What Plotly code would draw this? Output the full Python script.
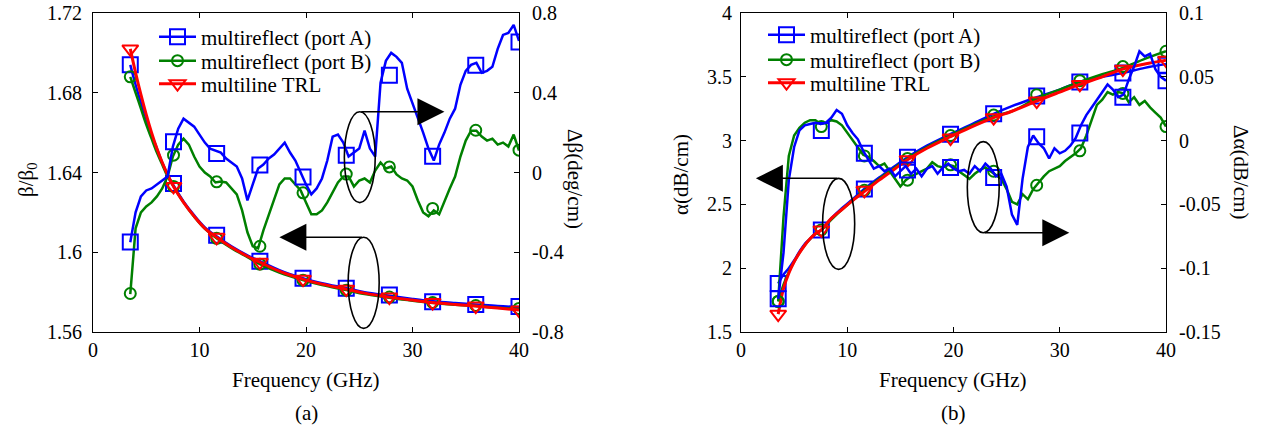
import plotly.graph_objects as go

FONT = "Times New Roman, Liberation Serif, serif"
BLUE, GREEN, RED = "#0000FF", "#008000", "#FF0000"

# ---------------- data ----------------
# smooth curves (beta/beta0 and alpha) sampling frequencies (GHz)
f_smooth = [3.5, 4.0, 4.5, 5.0, 5.5, 6.0, 6.5, 7.0, 7.56, 8.5, 9.5, 10.5, 11.6, 13.0,
            14.5, 15.67, 17.5, 19.7, 21.5, 23.78, 25.5, 27.83, 30.0, 31.9, 34.0, 35.94, 38.0, 40.0]

beta_A = [1.694, 1.684, 1.675, 1.667, 1.659, 1.652, 1.645, 1.639, 1.6335, 1.6255, 1.6185, 1.6125, 1.608, 1.603,
          1.5985, 1.5955, 1.591, 1.587, 1.5845, 1.582, 1.580, 1.5782, 1.5766, 1.5754, 1.5745, 1.5738, 1.573, 1.5725]
beta_B = [1.688, 1.680, 1.672, 1.664, 1.657, 1.650, 1.644, 1.638, 1.633, 1.625, 1.6178, 1.6118, 1.607, 1.602,
          1.5975, 1.594, 1.5898, 1.586, 1.5835, 1.581, 1.579, 1.5772, 1.5757, 1.5746, 1.5737, 1.573, 1.5722, 1.5715]
beta_trl = [1.702, 1.690, 1.679, 1.669, 1.660, 1.652, 1.645, 1.639, 1.633, 1.625, 1.618, 1.612, 1.6075, 1.6025,
            1.598, 1.595, 1.5905, 1.5865, 1.584, 1.5815, 1.5795, 1.5775, 1.576, 1.5748, 1.5738, 1.573, 1.572, 1.571]

alpha_A = [1.88, 1.95, 2.00, 2.06, 2.13, 2.19, 2.23, 2.27, 2.30, 2.39, 2.47, 2.54, 2.62, 2.71,
           2.80, 2.87, 2.96, 3.05, 3.12, 3.21, 3.27, 3.34, 3.40, 3.46, 3.50, 3.53, 3.57, 3.60]
alpha_B = [1.74, 1.87, 1.97, 2.05, 2.12, 2.18, 2.23, 2.27, 2.30, 2.38, 2.46, 2.53, 2.61, 2.70,
           2.79, 2.86, 2.95, 3.04, 3.11, 3.19, 3.23, 3.33, 3.40, 3.46, 3.52, 3.57, 3.64, 3.70]
alpha_trl = [1.64, 1.84, 1.96, 2.05, 2.12, 2.18, 2.23, 2.27, 2.30, 2.39, 2.46, 2.53, 2.60, 2.69,
             2.78, 2.85, 2.94, 3.03, 3.10, 3.18, 3.23, 3.31, 3.38, 3.44, 3.50, 3.56, 3.60, 3.63]

# noisy difference curves sampling frequencies (GHz)
f_noisy = [3.5, 4.0, 4.5, 5.0, 5.5, 6.0, 6.5, 7.0, 7.5, 8.0,
           8.5, 9.0, 9.5, 10.0, 10.5, 11.0, 11.5, 12.0, 12.5, 13.0,
           13.5, 14.0, 14.5, 15.0, 15.5, 16.0, 16.5, 17.0, 17.5, 18.0,
           18.5, 19.0, 19.5, 20.0, 20.5, 21.0, 21.5, 22.0, 22.5, 23.0,
           23.5, 24.0, 24.5, 25.0, 25.5, 26.0, 26.5, 27.0, 27.5, 28.0,
           28.5, 29.0, 29.5, 30.0, 30.5, 31.0, 31.5, 32.0, 32.5, 33.0,
           33.5, 34.0, 34.5, 35.0, 35.5, 36.0, 36.5, 37.0, 37.5, 38.0,
           38.5, 39.0, 39.5, 40.0]

dbeta_A = [-0.35, -0.20, -0.12, -0.09, -0.08, -0.06, -0.04, -0.02, 0.13, 0.22,
           0.27, 0.25, 0.23, 0.19, 0.15, 0.12, 0.11, 0.10, 0.07, 0.05,
           0.03, -0.03, -0.14, -0.06, 0.02, 0.04, 0.07, 0.09, 0.12, 0.15,
           0.10, 0.06, 0.00, -0.06, -0.11, -0.08, -0.03, 0.06, 0.18, 0.19,
           0.15, 0.08, 0.10, 0.12, 0.21, 0.12, 0.08, 0.45, 0.56, 0.60,
           0.58, 0.55, 0.42, 0.35, 0.28, 0.20, 0.12, 0.06, 0.14, 0.20,
           0.27, 0.32, 0.44, 0.51, 0.54, 0.55, 0.50, 0.51, 0.53, 0.62,
           0.69, 0.70, 0.74, 0.66]
dbeta_B = [-0.61, -0.28, -0.20, -0.17, -0.15, -0.12, -0.08, -0.02, 0.08, 0.14,
           0.17, 0.14, 0.08, 0.03, 0.00, -0.02, -0.05, -0.045, -0.05, -0.08,
           -0.11, -0.19, -0.30, -0.37, -0.38, -0.29, -0.21, -0.13, -0.06, -0.03,
           -0.03, -0.06, -0.09, -0.15, -0.21, -0.21, -0.19, -0.15, -0.10, -0.05,
           -0.02, -0.02, -0.07, -0.04, -0.03, -0.05, 0.01, 0.05, 0.02, 0.03,
           -0.01, -0.03, -0.04, -0.07, -0.14, -0.20, -0.22, -0.19, -0.21, -0.14,
           -0.08, -0.02, 0.08, 0.16, 0.21, 0.21, 0.18, 0.16, 0.17, 0.14,
           0.15, 0.13, 0.19, 0.11]

dalpha_A = [-0.124, -0.088, -0.031, -0.005, 0.008, 0.012, 0.013, 0.014, 0.013, 0.014,
            0.018, 0.024, 0.021, 0.012, 0.006, 0.001, -0.008, -0.015, -0.022, -0.020,
            -0.024, -0.022, -0.028, -0.024, -0.020, -0.026, -0.022, -0.028, -0.022, -0.020,
            -0.026, -0.021, -0.018, -0.022, -0.024, -0.023, -0.026, -0.020, -0.024, -0.018,
            -0.022, -0.028, -0.026, -0.036, -0.058, -0.066, -0.030, -0.005, 0.004, -0.002,
            -0.006, -0.014, -0.006, -0.010, -0.008, -0.004, 0.002, 0.012, 0.020, 0.026,
            0.032, 0.038, 0.044, 0.040, 0.034, 0.036, 0.048, 0.058, 0.070, 0.066,
            0.068, 0.056, 0.050, 0.047]
dalpha_B = [-0.126, -0.060, -0.012, 0.004, 0.010, 0.014, 0.016, 0.016, 0.013, 0.014,
            0.016, 0.015, 0.012, 0.006, 0.000, -0.006, -0.011, -0.013, -0.016, -0.020,
            -0.018, -0.024, -0.030, -0.036, -0.031, -0.028, -0.026, -0.024, -0.022, -0.017,
            -0.020, -0.021, -0.019, -0.020, -0.024, -0.027, -0.030, -0.026, -0.023, -0.021,
            -0.024, -0.027, -0.030, -0.038, -0.048, -0.050, -0.042, -0.046, -0.038, -0.033,
            -0.028, -0.024, -0.022, -0.020, -0.016, -0.013, -0.010, -0.006, 0.004, 0.016,
            0.028, 0.032, 0.038, 0.036, 0.038, 0.037, 0.030, 0.034, 0.028, 0.031,
            0.026, 0.022, 0.018, 0.011]

# marker positions (GHz) and values read at the markers
f_mark = [3.5, 7.56, 11.61, 15.67, 19.72, 23.78, 27.83, 31.89, 35.94, 40.0]
beta_A_mk = [1.694, 1.6345, 1.6085, 1.5955, 1.587, 1.582, 1.5785, 1.5752, 1.5738, 1.5728]
beta_B_mk = [1.688, 1.633, 1.607, 1.594, 1.586, 1.581, 1.5775, 1.5748, 1.5733, 1.5718]
beta_trl_mk = [1.702, 1.633, 1.6075, 1.595, 1.5865, 1.5815, 1.5775, 1.5748, 1.573, 1.571]
dbeta_A_mk = [-0.348, 0.154, 0.095, 0.037, -0.022, 0.087, 0.488, 0.082, 0.538, 0.655]
dbeta_B_mk = [-0.607, 0.087, -0.047, -0.37, -0.102, -0.008, 0.028, -0.18, 0.212, 0.112]
alpha_A_mk = [1.88, 2.30, 2.62, 2.87, 3.05, 3.21, 3.35, 3.46, 3.53, 3.59]
alpha_B_mk = [1.74, 2.30, 2.61, 2.86, 3.04, 3.20, 3.36, 3.47, 3.58, 3.70]
alpha_trl_mk = [1.64, 2.30, 2.61, 2.85, 3.02, 3.18, 3.31, 3.44, 3.56, 3.63]
dalpha_A_mk = [-0.124, 0.008, -0.010, -0.023, -0.021, -0.029, 0.003, 0.006, 0.034, 0.047]
dalpha_B_mk = [-0.126, 0.011, -0.012, -0.031, -0.019, -0.024, -0.035, -0.008, 0.037, 0.011]

series_names = ["multireflect (port A)", "multireflect (port B)", "multiline TRL"]

# tick labels
x_ticks = [0, 10, 20, 30, 40]
beta_ticks = [1.56, 1.6, 1.64, 1.68, 1.72]
beta_ticktext = ["1.56", "1.6", "1.64", "1.68", "1.72"]
dbeta_ticks = [-0.8, -0.4, 0, 0.4, 0.8]
dbeta_ticktext = ["-0.8", "-0.4", "0", "0.4", "0.8"]
alpha_ticks = [1.5, 2, 2.5, 3, 3.5, 4]
alpha_ticktext = ["1.5", "2", "2.5", "3", "3.5", "4"]
dalpha_ticks = [-0.15, -0.1, -0.05, 0, 0.05, 0.1]
dalpha_ticktext = ["-0.15", "-0.1", "-0.05", "0", "0.05", "0.1"]

# ---------------- styles ----------------
STY = {
    "A": dict(color=BLUE, symbol="square-open", size=15, lw=2.5),
    "B": dict(color=GREEN, symbol="circle-open", size=11, lw=2.5),
    "T": dict(color=RED, symbol="triangle-down-open", size=14, lw=3),
}

W, H = 1261, 434
L, R, T, B = 93, 1166, 13, 332
PW, PH = R - L, B - T


def px(p):
    return (p - L) / PW


def py(p):
    return (B - p) / PH


fig = go.Figure()


def add_curve(x, y, key, xa, ya, shape="linear"):
    s = STY[key]
    fig.add_trace(go.Scatter(x=x, y=y, mode="lines", xaxis=xa, yaxis=ya, showlegend=False,
                             line=dict(color=s["color"], width=s["lw"], shape=shape),
                             hoverinfo="skip"))


def add_marks(x, y, key, xa, ya):
    s = STY[key]
    fig.add_trace(go.Scatter(x=x, y=y, mode="markers", xaxis=xa, yaxis=ya, showlegend=False,
                             marker=dict(symbol=s["symbol"], size=s["size"], color=s["color"],
                                         line=dict(color=s["color"], width=2)),
                             hoverinfo="skip"))


# left panel: delta beta (right axis)
add_curve(f_noisy, dbeta_B, "B", "x", "y2")
add_marks(f_mark, dbeta_B_mk, "B", "x", "y2")
add_curve(f_noisy, dbeta_A, "A", "x", "y2")
add_marks(f_mark, dbeta_A_mk, "A", "x", "y2")
# left panel: beta/beta0 (left axis)
add_curve(f_smooth, beta_A, "A", "x", "y", "spline")
add_marks(f_mark, beta_A_mk, "A", "x", "y")
add_curve(f_smooth, beta_B, "B", "x", "y", "spline")
add_marks(f_mark, beta_B_mk, "B", "x", "y")
add_curve(f_smooth, beta_trl, "T", "x", "y", "spline")
add_marks(f_mark, beta_trl_mk, "T", "x", "y")

# right panel: delta alpha (right axis)
add_curve(f_noisy, dalpha_B, "B", "x2", "y4")
add_marks(f_mark, dalpha_B_mk, "B", "x2", "y4")
add_curve(f_noisy, dalpha_A, "A", "x2", "y4")
add_marks(f_mark, dalpha_A_mk, "A", "x2", "y4")
# right panel: alpha (left axis)
add_curve(f_smooth, alpha_A, "A", "x2", "y3", "spline")
add_marks(f_mark, alpha_A_mk, "A", "x2", "y3")
add_curve(f_smooth, alpha_B, "B", "x2", "y3", "spline")
add_marks(f_mark, alpha_B_mk, "B", "x2", "y3")
add_curve(f_smooth, alpha_trl, "T", "x2", "y3", "spline")
add_marks(f_mark, alpha_trl_mk, "T", "x2", "y3")

# legend entries: one legend per row so the row spacing matches
leg_rows_left = [37, 61, 84]
leg_rows_right = [35, 60, 83]
legend_layout = {}
k = 1
for lx, rows, xa, ya in [(154, leg_rows_left, "x", "y"), (763, leg_rows_right, "x2", "y3")]:
    for key, name, row in zip(["A", "B", "T"], series_names, rows):
        s = STY[key]
        lname = "legend" if k == 1 else f"legend{k}"
        fig.add_trace(go.Scatter(x=[None], y=[None], mode="lines+markers", name=name, xaxis=xa, yaxis=ya,
                                 legend=lname,
                                 line=dict(color=s["color"], width=s["lw"]),
                                 marker=dict(symbol=s["symbol"], size=s["size"], color=s["color"],
                                             line=dict(color=s["color"], width=2))))
        legend_layout[lname] = dict(x=px(lx), y=py(row), xref="paper", yref="paper",
                                    xanchor="left", yanchor="middle", bgcolor="rgba(0,0,0,0)",
                                    borderwidth=0, itemwidth=37,
                                    font=dict(family=FONT, size=21, color="black"))
        k += 1

# ---------------- layout ----------------
ax_common = dict(showline=True, linecolor="black", linewidth=1, ticks="inside", ticklen=5,
                 tickwidth=1, tickcolor="black", showgrid=False, zeroline=False,
                 ticklabeloverflow="allow",
                 tickfont=dict(family=FONT, size=20, color="black"))

fig.update_layout(
    width=W, height=H,
    margin=dict(l=L, r=W - R, t=T, b=H - B, autoexpand=False),
    paper_bgcolor="white", plot_bgcolor="white",
    font=dict(family=FONT, size=20, color="black"),
    xaxis=dict(domain=[0, px(519)], range=[0, 40], tickvals=x_ticks, mirror="ticks", anchor="y", **ax_common),
    yaxis=dict(range=[1.56, 1.72], tickvals=beta_ticks, ticktext=beta_ticktext, mirror=True,
               anchor="x", ticklabelstandoff=6, **ax_common),
    yaxis2=dict(range=[-0.8, 0.8], tickvals=dbeta_ticks, ticktext=dbeta_ticktext, overlaying="y",
                side="right", anchor="x", ticklabelstandoff=8, **ax_common),
    xaxis2=dict(domain=[px(741), 1], range=[0, 40], tickvals=x_ticks, mirror="ticks", anchor="y3", **ax_common),
    yaxis3=dict(range=[1.5, 4], tickvals=alpha_ticks, ticktext=alpha_ticktext, mirror=True,
                anchor="x2", ticklabelstandoff=4, **ax_common),
    yaxis4=dict(range=[-0.15, 0.1], tickvals=dalpha_ticks, ticktext=dalpha_ticktext, overlaying="y3",
                side="right", anchor="x2", ticklabelstandoff=8, **ax_common),
    **legend_layout,
)

# ellipses
ell = dict(type="circle", line=dict(color="black", width=1.6), fillcolor="rgba(0,0,0,0)", layer="above")
fig.add_shape(xref="x", yref="y", x0=23.6, x1=26.5, y0=1.6249, y1=1.6705, **ell)
fig.add_shape(xref="x", yref="y", x0=23.96, x1=26.87, y0=1.5618, y1=1.6075, **ell)
fig.add_shape(xref="x2", yref="y3", x0=7.68, x1=10.7, y0=1.991, y1=2.704, **ell)
fig.add_shape(xref="x2", yref="y3", x0=21.3, x1=24.3, y0=2.278, y1=2.992, **ell)

# arrows (tip at x,y ; tail at ax,ay)
arr = dict(text="", showarrow=True, arrowhead=2, arrowsize=3.6, arrowwidth=1.5, arrowcolor="black")
fig.add_annotation(xref="x", yref="y", axref="x", ayref="y", x=33.0, y=1.6705, ax=25.05, ay=1.6705, **arr)
fig.add_annotation(xref="x", yref="y", axref="x", ayref="y", x=17.5, y=1.6075, ax=25.4, ay=1.6075, **arr)
fig.add_annotation(xref="x2", yref="y3", axref="x2", ayref="y3", x=1.4, y=2.704, ax=9.2, ay=2.704, **arr)
fig.add_annotation(xref="x2", yref="y3", axref="x2", ayref="y3", x=30.9, y=2.278, ax=22.8, ay=2.278, **arr)

# axis titles and panel labels
txt = dict(xref="paper", yref="paper", showarrow=False, font=dict(family=FONT, size=21, color="black"),
           xanchor="center", yanchor="middle")
fig.add_annotation(text="β/β<sub>0</sub>", x=px(27), y=py(180), textangle=-90, **txt)
fig.add_annotation(text="Δβ(deg/cm)", x=px(575), y=py(179), textangle=90, **txt)
fig.add_annotation(text="α(dB/cm)", x=px(681), y=py(175), textangle=-90, **txt)
fig.add_annotation(text="Δα(dB/cm)", x=px(1241), y=py(172), textangle=90, **txt)
fig.add_annotation(text="Frequency (GHz)", x=px(306), y=py(380), **txt)
fig.add_annotation(text="Frequency (GHz)", x=px(953), y=py(380), **txt)
fig.add_annotation(text="(a)", x=px(306), y=py(413), **txt)
fig.add_annotation(text="(b)", x=px(953), y=py(413), **txt)

# the browser's default 8 px body margin would shift the whole figure; remove it
fig.write_html("out.html", config={"displayModeBar": False},
               post_script="document.body.style.margin='0px';")
